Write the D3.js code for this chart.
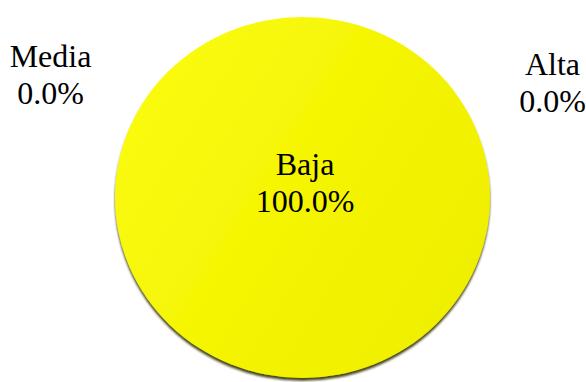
<!DOCTYPE html>
<html>
<head>
<meta charset="utf-8">
<script src="https://cdn.jsdelivr.net/npm/d3@7"></script>
<style>
  html, body { margin: 0; padding: 0; background: #ffffff; }
  svg { display: block; }
</style>
</head>
<body>
<svg id="chart" width="586" height="382"></svg>
<script>
// Category shares (percent)
const categories = ["Baja", "Media", "Alta"];
const shares = [100.0, 0.0, 0.0];

const width = 586, height = 382;
const cx = 302.5, cy = 197.5;
const rx = 187.5, ry = 180.5;
const fontSize = 32, lineGap = 37;
const serif = "'Liberation Serif', 'Times New Roman', Times, serif";

// Where the labels of empty slices sit, relative to the pie centre
const outsideLabel = {
  "Media": [-252, -131],
  "Alta":  [ 250, -122.5]
};

const svg = d3.select("#chart");
const defs = svg.append("defs");

const grad = defs.append("linearGradient")
  .attr("id", "pieFill")
  .attr("x1", "0%").attr("y1", "20%")
  .attr("x2", "100%").attr("y2", "80%");
grad.append("stop").attr("offset", "0%").attr("stop-color", "#fbfb12");
grad.append("stop").attr("offset", "55%").attr("stop-color", "#f4f402");
grad.append("stop").attr("offset", "100%").attr("stop-color", "#eeee00");

const shadow = defs.append("filter")
  .attr("id", "pieShadow")
  .attr("x", "-10%").attr("y", "-10%")
  .attr("width", "120%").attr("height", "125%");
shadow.append("feDropShadow")
  .attr("dx", 0).attr("dy", 3)
  .attr("stdDeviation", 1.3)
  .attr("flood-color", "#303000")
  .attr("flood-opacity", 0.9);

const data = categories.map((c, i) => ({ name: c, value: shares[i] }));

const pie = d3.pie().value(d => d.value).sort(null);
const arcs = pie(data);
const arc = d3.arc().innerRadius(0).outerRadius(rx);

const g = svg.append("g")
  .attr("transform", `translate(${cx},${cy}) scale(1,${ry / rx})`);

g.selectAll("path.slice")
  .data(arcs.filter(d => d.endAngle > d.startAngle))
  .join("path")
  .attr("class", "slice")
  .attr("d", arc)
  .attr("fill", "url(#pieFill)")
  .attr("filter", "url(#pieShadow)");

const fmt = d3.format(".1f");
const total = d3.sum(shares);

const labels = svg.append("g").attr("transform", `translate(${cx},${cy})`);
arcs.forEach(d => {
  let pos;
  if (d.endAngle - d.startAngle >= 2 * Math.PI - 1e-6) {
    pos = [2.5, -22.5];
  } else if (d.endAngle > d.startAngle) {
    const c = arc.centroid(d);
    pos = [c[0], c[1] * ry / rx];
  } else {
    pos = outsideLabel[d.data.name];
  }
  const t = labels.append("text")
    .attr("text-anchor", "middle")
    .attr("font-family", serif)
    .attr("font-size", fontSize)
    .attr("fill", "#000")
    .attr("x", pos[0]).attr("y", pos[1]);
  t.append("tspan").attr("x", pos[0]).attr("dy", 0).text(d.data.name);
  t.append("tspan").attr("x", pos[0]).attr("dy", lineGap)
    .text(fmt(d.data.value / total * 100) + "%");
});
</script>
</body>
</html>
